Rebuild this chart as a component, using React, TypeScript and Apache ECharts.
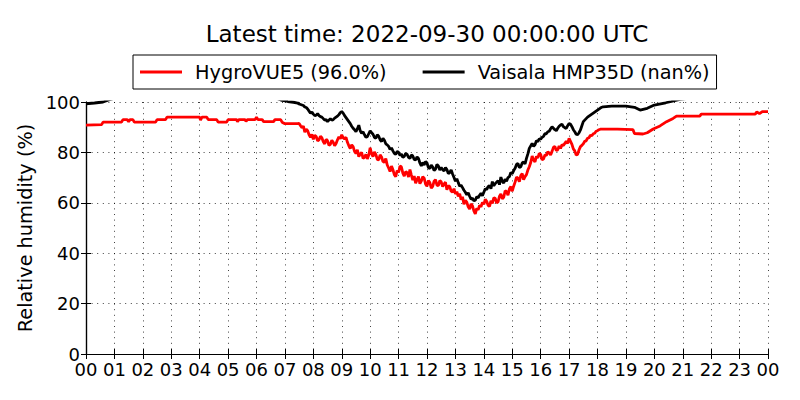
import React, { useEffect, useRef } from "react";
import * as echarts from "echarts";

const titleText = "Latest time: 2022-09-30 00:00:00 UTC";
const seriesNames = ["HygroVUE5 (96.0%)", "Vaisala HMP35D (nan%)"];
const yAxisName = "Relative humidity (%)";
const hourMin = 0;
const hourMax = 24;
const yMin = 0;
const yMax = 100;

// [hour of day, relative humidity %]
const hygroVUE5: [number, number][] = [
  [0, 90.8], [0.55, 91], [0.6, 92], [1.25, 92], [1.3, 93], [1.45, 93], [1.5, 92.2], [1.55, 93],
  [1.65, 93], [1.7, 92], [2.45, 92], [2.5, 93], [2.8, 93], [2.85, 94], [4.0, 94], [4.03, 92.8],
  [4.08, 94], [4.25, 94], [4.3, 93], [4.6, 93], [4.65, 92], [4.95, 92], [5.0, 93], [5.3, 93],
  [5.33, 92.2], [5.38, 93], [5.6, 93], [5.63, 92.3], [5.68, 93], [5.95, 93], [6.0, 94], [6.05, 93],
  [6.2, 93], [6.25, 92.2], [6.6, 92.2], [6.65, 93], [6.85, 93], [6.9, 92], [7.0, 91.4], [7.45, 91.4],
  [7.5, 91.5], [7.55, 90.6], [7.6, 89.8], [7.65, 90.4], [7.7, 88.0], [7.75, 89.2], [7.8, 88.6], [7.85, 87.0],
  [7.9, 86.0], [7.95, 87.2], [8.0, 85.2], [8.05, 86.8], [8.1, 86.3], [8.15, 84.6], [8.2, 85.0], [8.25, 86.4],
  [8.3, 85.8], [8.35, 84.2], [8.4, 83.4], [8.45, 85.2], [8.5, 84.6], [8.55, 82.8], [8.6, 83.2], [8.65, 84.8],
  [8.7, 84.0], [8.75, 82.6], [8.8, 83.5], [8.85, 85.0], [8.9, 86.2], [8.95, 85.4], [9.0, 87.0], [9.05, 85.8],
  [9.1, 85.4], [9.15, 86.0], [9.2, 84.0], [9.25, 82.6], [9.3, 81.5], [9.35, 83.0], [9.4, 82.3], [9.45, 80.4],
  [9.5, 79.6], [9.55, 81.0], [9.6, 78.3], [9.65, 79.4], [9.7, 80.0], [9.75, 77.6], [9.8, 78.0], [9.85, 79.2],
  [9.9, 77.4], [9.95, 79.0], [10.0, 81.8], [10.05, 79.4], [10.1, 78.3], [10.15, 80.2], [10.2, 79.2], [10.25, 77.2],
  [10.3, 77.0], [10.35, 79.0], [10.4, 78.2], [10.45, 76.4], [10.5, 76.0], [10.55, 77.6], [10.6, 75.0], [10.65, 73.8],
  [10.7, 72.4], [10.75, 74.6], [10.8, 73.2], [10.85, 71.2], [10.9, 70.4], [10.95, 72.8], [11.0, 72.0], [11.05, 74.6],
  [11.1, 74.2], [11.15, 71.8], [11.2, 70.6], [11.25, 72.4], [11.3, 72.0], [11.35, 70.2], [11.4, 73.2], [11.45, 71.0],
  [11.5, 69.0], [11.55, 70.6], [11.6, 67.8], [11.65, 69.2], [11.7, 70.4], [11.75, 67.6], [11.8, 68.6], [11.85, 70.4],
  [11.9, 69.8], [11.95, 67.4], [12.0, 66.6], [12.05, 68.8], [12.1, 68.0], [12.15, 65.8], [12.2, 66.5], [12.25, 68.6],
  [12.3, 69.2], [12.35, 67.0], [12.4, 66.8], [12.45, 68.8], [12.5, 68.3], [12.55, 66.4], [12.6, 67.4], [12.65, 68.2],
  [12.7, 65.2], [12.75, 66.8], [12.8, 66.4], [12.85, 64.6], [12.9, 64.2], [12.95, 65.6], [13.0, 63.5], [13.05, 64.4],
  [13.1, 62.6], [13.15, 63.6], [13.2, 61.2], [13.25, 62.4], [13.3, 59.4], [13.35, 61.0], [13.4, 60.3], [13.45, 58.4],
  [13.5, 57.5], [13.55, 59.6], [13.6, 58.8], [13.65, 56.8], [13.7, 55.6], [13.75, 57.8], [13.8, 57.2], [13.85, 59.0],
  [13.9, 58.4], [13.95, 60.2], [14.0, 59.4], [14.05, 61.4], [14.1, 60.6], [14.15, 59.0], [14.2, 58.6], [14.25, 60.8],
  [14.3, 59.8], [14.35, 62.0], [14.4, 61.8], [14.45, 60.0], [14.5, 60.4], [14.55, 62.6], [14.6, 63.5], [14.65, 61.6],
  [14.7, 62.2], [14.75, 64.8], [14.8, 64.4], [14.85, 63.0], [14.9, 65.6], [14.95, 66.4], [15.0, 64.6], [15.05, 66.6],
  [15.1, 68.2], [15.15, 70.2], [15.2, 69.8], [15.25, 68.4], [15.3, 70.8], [15.35, 71.6], [15.4, 69.2], [15.45, 70.4],
  [15.5, 71.2], [15.55, 73.0], [15.6, 74.3], [15.65, 76.0], [15.7, 78.6], [15.75, 77.0], [15.8, 76.2], [15.85, 78.4],
  [15.9, 77.8], [15.95, 79.6], [16.0, 79.2], [16.05, 77.0], [16.1, 77.4], [16.15, 79.0], [16.2, 78.8], [16.25, 80.2],
  [16.3, 79.8], [16.35, 79.0], [16.4, 80.4], [16.45, 82.0], [16.5, 82.3], [16.55, 80.8], [16.6, 81.0], [16.65, 82.6],
  [16.7, 81.6], [16.75, 83.0], [16.8, 82.8], [16.85, 83.6], [16.9, 84.4], [16.95, 83.6], [17.0, 85.6], [17.05, 84.4],
  [17.1, 83.2], [17.15, 81.4], [17.2, 80.6], [17.25, 79.0], [17.3, 79.2], [17.35, 81.0], [17.4, 82.3], [17.45, 82.8],
  [17.5, 83.4], [17.55, 84.4], [17.6, 84.6], [17.65, 85.6], [17.7, 85.8], [17.75, 86.8], [17.8, 86.6], [17.85, 87.4],
  [17.9, 87.6], [17.95, 88.4], [18.0, 88.6], [18.05, 89.0], [18.1, 89.2], [18.7, 89.2], [19.25, 89.0], [19.3, 87.5],
  [19.6, 87.3], [19.75, 87.8], [19.96, 89.3], [20.2, 90.5], [20.43, 92.2], [20.66, 93.5], [20.78, 94.4], [21.6, 94.4],
  [21.65, 95.2], [23.55, 95.2], [23.6, 96.0], [23.7, 95.4], [23.8, 96.2], [24, 96.2],
];

const hmp35d: [number, number][] = [
  [0, 99.3], [0.3, 99.6], [0.6, 100], [0.8, 100.8], [1.0, 101.5], [6.7, 101.5], [6.9, 100.6], [7.1, 100.2],
  [7.3, 99.9], [7.45, 99.6], [7.5, 99.2], [7.55, 99.0], [7.6, 98.8], [7.65, 98.6], [7.7, 98.0], [7.75, 97.8],
  [7.8, 97.2], [7.85, 96.4], [7.9, 95.6], [7.95, 96.0], [8.0, 95.2], [8.05, 94.6], [8.1, 94.8], [8.15, 95.4],
  [8.2, 94.6], [8.25, 94.2], [8.3, 94.0], [8.35, 93.4], [8.4, 92.8], [8.45, 93.0], [8.5, 92.2], [8.55, 92.8],
  [8.6, 93.4], [8.65, 92.8], [8.7, 93.0], [8.75, 93.6], [8.8, 94.0], [8.85, 94.4], [8.9, 95.0], [8.95, 95.8],
  [9.0, 96.2], [9.05, 95.6], [9.1, 94.6], [9.15, 93.8], [9.2, 93.0], [9.25, 92.2], [9.3, 91.4], [9.35, 90.4],
  [9.4, 89.6], [9.45, 89.0], [9.5, 88.2], [9.55, 89.4], [9.6, 90.8], [9.65, 88.6], [9.7, 87.6], [9.75, 88.2],
  [9.8, 87.0], [9.85, 86.0], [9.9, 86.2], [9.95, 87.4], [10.0, 88.6], [10.05, 87.8], [10.1, 87.2], [10.15, 86.0],
  [10.2, 85.6], [10.25, 87.0], [10.3, 86.4], [10.35, 85.0], [10.4, 84.3], [10.45, 85.6], [10.5, 84.8], [10.55, 83.4],
  [10.6, 83.0], [10.65, 82.4], [10.7, 81.2], [10.75, 81.8], [10.8, 80.6], [10.85, 79.6], [10.9, 79.2], [10.95, 80.4],
  [11.0, 80.0], [11.05, 78.8], [11.1, 79.4], [11.15, 78.0], [11.2, 78.4], [11.25, 79.6], [11.3, 79.2], [11.35, 78.0],
  [11.4, 77.6], [11.45, 79.0], [11.5, 78.6], [11.55, 77.2], [11.6, 77.0], [11.65, 78.2], [11.7, 77.6], [11.75, 75.8],
  [11.8, 74.6], [11.85, 76.0], [11.9, 75.0], [11.95, 76.4], [12.0, 75.8], [12.05, 74.0], [12.1, 73.6], [12.15, 75.0],
  [12.2, 74.2], [12.25, 72.8], [12.3, 73.4], [12.35, 75.2], [12.4, 74.6], [12.45, 73.0], [12.5, 74.0], [12.55, 73.2],
  [12.6, 72.6], [12.65, 74.0], [12.7, 73.2], [12.75, 71.6], [12.8, 72.0], [12.85, 73.0], [12.9, 71.4], [12.95, 70.0],
  [13.0, 68.6], [13.05, 69.6], [13.1, 68.0], [13.15, 66.6], [13.2, 67.0], [13.25, 66.0], [13.3, 65.0], [13.35, 64.2],
  [13.4, 63.2], [13.45, 64.0], [13.5, 62.6], [13.55, 61.4], [13.6, 61.8], [13.65, 60.8], [13.7, 61.0], [13.75, 62.4],
  [13.8, 62.0], [13.85, 63.0], [13.9, 63.8], [13.95, 62.8], [14.0, 64.2], [14.05, 65.6], [14.1, 65.2], [14.15, 66.4],
  [14.2, 66.8], [14.25, 65.6], [14.3, 68.4], [14.35, 66.8], [14.4, 67.6], [14.45, 68.2], [14.5, 68.8], [14.55, 67.2],
  [14.6, 70.2], [14.65, 68.6], [14.7, 67.8], [14.75, 69.4], [14.8, 68.6], [14.85, 70.0], [14.9, 70.4], [14.95, 72.0],
  [15.0, 71.6], [15.05, 72.8], [15.1, 73.7], [15.15, 75.2], [15.2, 75.6], [15.25, 74.0], [15.3, 74.3], [15.35, 75.8],
  [15.4, 76.2], [15.45, 75.4], [15.5, 77.6], [15.55, 79.4], [15.6, 81.6], [15.65, 82.6], [15.7, 83.6], [15.75, 82.4],
  [15.8, 83.0], [15.85, 84.6], [15.9, 84.3], [15.95, 85.4], [16.0, 85.2], [16.05, 86.0], [16.1, 86.4], [16.15, 87.4],
  [16.2, 87.4], [16.25, 88.2], [16.3, 88.4], [16.35, 89.4], [16.4, 90.2], [16.45, 89.6], [16.5, 89.0], [16.55, 88.6],
  [16.6, 89.6], [16.65, 90.4], [16.7, 90.9], [16.75, 91.2], [16.8, 90.2], [16.85, 89.8], [16.9, 89.5], [16.95, 90.6],
  [17.0, 91.5], [17.05, 91.2], [17.1, 90.2], [17.15, 89.0], [17.2, 88.2], [17.25, 87.2], [17.3, 87.0], [17.35, 87.8],
  [17.4, 88.9], [17.45, 90.6], [17.5, 92.2], [17.55, 92.8], [17.6, 93.4], [17.65, 94.0], [17.7, 94.4], [17.75, 94.8],
  [17.8, 95.2], [17.85, 95.6], [17.9, 96.0], [17.95, 96.4], [18.0, 96.8], [18.05, 97.2], [18.1, 97.6], [18.15, 97.9],
  [18.2, 98.1], [18.5, 98.4], [19.0, 98.4], [19.3, 97.9], [19.5, 96.8], [19.75, 97.5], [20.0, 98.8], [20.4, 99.7],
  [20.6, 100.2], [20.9, 101], [21.2, 101.5], [24, 101.5],
];

const FONT = "DejaVu Sans";

export default function App() {
  const ref = useRef<HTMLDivElement>(null);

  useEffect(() => {
    document.body.style.margin = "0";
    if (!ref.current) return;
    const chart = echarts.init(ref.current, null, { renderer: "svg" });

    const hourLabel = (v: number) => String(Math.round(v) % 24).padStart(2, "0");
    const dotted = { type: [1, 4.6] as any, color: "#000", width: 1, opacity: 0.75 };
    const tick = { show: true, inside: true, length: 5, lineStyle: { color: "#000", width: 1 } };
    const axisLine = { show: true, lineStyle: { color: "#000", width: 1.2 } };

    chart.setOption({
      animation: false,
      title: {
        text: titleText,
        left: 422,
        top: 17,
        textAlign: "center",
        textStyle: { fontFamily: FONT, fontSize: 23, fontWeight: "normal", color: "#000" },
      },
      legend: {
        data: seriesNames,
        icon: "rect",
        left: 133,
        top: 55,
        padding: [7, 7, 7, 7],
        itemWidth: 42,
        itemHeight: 3,
        itemGap: 36,
        borderColor: "#000",
        borderWidth: 1,
        borderRadius: 0,
        textStyle: { fontFamily: FONT, fontSize: 19.3, lineHeight: 20, color: "#000", padding: [0, 0, 0, 8] },
      },
      grid: { left: 86, top: 102, width: 682, height: 252, containLabel: false },
      xAxis: [
        {
          type: "value",
          min: hourMin,
          max: hourMax,
          interval: 1,
          axisLine,
          axisTick: tick,
          axisLabel: {
            formatter: hourLabel,
            fontFamily: FONT,
            fontSize: 18,
            lineHeight: 16,
            color: "#000",
            margin: 7,
          },
          splitLine: { show: true, lineStyle: dotted },
        },
        {
          type: "value",
          position: "top",
          min: hourMin,
          max: hourMax,
          interval: 1,
          axisLine,
          axisTick: tick,
          axisLabel: { show: false },
          splitLine: { show: false },
        },
      ],
      yAxis: [
        {
          type: "value",
          min: yMin,
          max: yMax,
          interval: 20,
          name: yAxisName,
          nameLocation: "middle",
          nameGap: 46,
          nameTextStyle: { fontFamily: FONT, fontSize: 19.3, color: "#000" },
          axisLine,
          axisTick: tick,
          axisLabel: { fontFamily: FONT, fontSize: 18, lineHeight: 12, color: "#000", margin: 6 },
          splitLine: { show: true, lineStyle: dotted },
        },
        {
          type: "value",
          position: "right",
          min: yMin,
          max: yMax,
          interval: 20,
          axisLine,
          axisTick: tick,
          axisLabel: { show: false },
          splitLine: { show: false },
        },
      ],
      series: [
        {
          name: seriesNames[0],
          type: "line",
          data: hygroVUE5,
          symbol: "none",
          clip: true,
          color: "#ff0000",
          lineStyle: { color: "#ff0000", width: 2.8 },
        },
        {
          name: seriesNames[1],
          type: "line",
          data: hmp35d,
          symbol: "none",
          clip: true,
          color: "#000000",
          lineStyle: { color: "#000000", width: 2.8 },
        },
      ],
    });

    return () => chart.dispose();
  }, []);

  return <div ref={ref} style={{ width: 800, height: 400 }} />;
}
